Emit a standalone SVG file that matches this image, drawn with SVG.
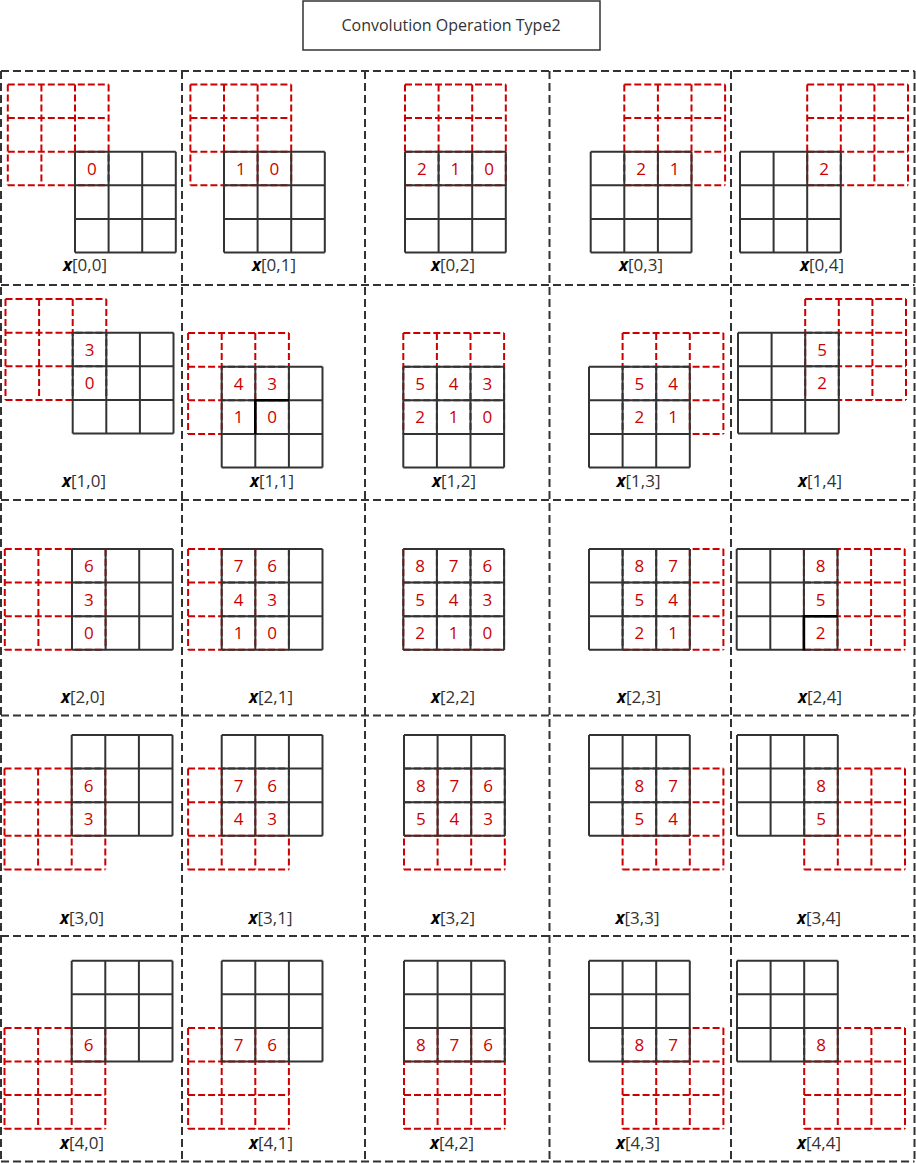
<svg xmlns="http://www.w3.org/2000/svg" xmlns:xlink="http://www.w3.org/1999/xlink" width="916" height="1163" viewBox="0 0 916 1163">
<style>
.frame{fill:none;stroke:#333;stroke-width:2;stroke-dasharray:8 4}
.k{fill:none;stroke:#CC0000;stroke-width:2;stroke-dasharray:7 3}
.g{fill:none;stroke:#333;stroke-width:2}
.thick{fill:none;stroke:#000;stroke-width:2.6}
.n{font-family:"Open Sans","Noto Sans",sans-serif;font-size:17px;fill:#CC0000;text-anchor:middle}
.lbl{font-family:"Open Sans","Noto Sans",sans-serif;font-size:17px;fill:#333;text-anchor:middle}
.lbl .v{font-weight:bold;font-style:italic;fill:#000}
.title{font-family:"Open Sans","Noto Sans",sans-serif;font-size:16px;fill:#333;text-anchor:middle}
</style>
<defs>
<path id="kern" class="k" d="M0,0H100.8M0,33.6H100.8M0,67.2H100.8M0,100.8H100.8M0,0V100.8M33.6,0V100.8M67.2,0V100.8M100.8,0V100.8"/>
<path id="inp" class="g" d="M0,0H100.8M0,33.6H100.8M0,67.2H100.8M0,100.8H100.8M0,0V100.8M33.6,0V100.8M67.2,0V100.8M100.8,0V100.8"/>
</defs>
<g id="title">
<rect x="303" y="1" width="297" height="49" fill="#fff" stroke="#333" stroke-width="1.5"/>
<text class="title" x="451" y="31">Convolution Operation Type2</text>
</g>
<g id="frames">
<path class="frame" d="M1,71V1161.5M182,71V1161.5M365,71V1161.5M549.5,71V1161.5M731,71V1161.5M914.5,71V1161.5M1,71H914.5M1,285H914.5M1,500H914.5M1,715.5H914.5M1,936H914.5M1,1161.5H914.5"/>
</g>
<g id="p00"><use href="#kern" x="7.8" y="84.5"/><use href="#inp" x="75" y="151.7"/><text class="n" x="91.8" y="174.8">0</text><text class="lbl" x="85" y="271"><tspan class="v">x</tspan>[0,0]</text></g>
<g id="p01"><use href="#kern" x="190.4" y="84.5"/><use href="#inp" x="224" y="151.7"/><text class="n" x="240.8" y="174.8">1</text><text class="n" x="274.4" y="174.8">0</text><text class="lbl" x="274" y="271"><tspan class="v">x</tspan>[0,1]</text></g>
<g id="p02"><use href="#kern" x="405" y="84.5"/><use href="#inp" x="405" y="151.7"/><text class="n" x="421.8" y="174.8">2</text><text class="n" x="455.4" y="174.8">1</text><text class="n" x="489" y="174.8">0</text><text class="lbl" x="453" y="271"><tspan class="v">x</tspan>[0,2]</text></g>
<g id="p03"><use href="#kern" x="624.3" y="84.5"/><use href="#inp" x="590.7" y="151.7"/><text class="n" x="641.1" y="174.8">2</text><text class="n" x="674.7" y="174.8">1</text><text class="lbl" x="641" y="271"><tspan class="v">x</tspan>[0,3]</text></g>
<g id="p04"><use href="#kern" x="807.2" y="84.5"/><use href="#inp" x="740" y="151.7"/><text class="n" x="824" y="174.8">2</text><text class="lbl" x="822" y="271"><tspan class="v">x</tspan>[0,4]</text></g>
<g id="p10"><use href="#kern" x="5.5" y="299.1"/><use href="#inp" x="72.7" y="332.7"/><text class="n" x="89.5" y="355.8">3</text><text class="n" x="89.5" y="389.4">0</text><text class="lbl" x="84" y="487"><tspan class="v">x</tspan>[1,0]</text></g>
<g id="p11"><use href="#kern" x="188.1" y="333.1"/><use href="#inp" x="221.7" y="366.7"/><path class="thick" d="M255.3,434.3V400.3H288.9"/><text class="n" x="238.5" y="389.8">4</text><text class="n" x="272.1" y="389.8">3</text><text class="n" x="238.5" y="423.4">1</text><text class="n" x="272.1" y="423.4">0</text><text class="lbl" x="272" y="487"><tspan class="v">x</tspan>[1,1]</text></g>
<g id="p12"><use href="#kern" x="403.3" y="333.1"/><use href="#inp" x="403.3" y="366.7"/><text class="n" x="420.1" y="389.8">5</text><text class="n" x="453.7" y="389.8">4</text><text class="n" x="487.3" y="389.8">3</text><text class="n" x="420.1" y="423.4">2</text><text class="n" x="453.7" y="423.4">1</text><text class="n" x="487.3" y="423.4">0</text><text class="lbl" x="454" y="487"><tspan class="v">x</tspan>[1,2]</text></g>
<g id="p13"><use href="#kern" x="622.6" y="333.1"/><use href="#inp" x="589" y="366.7"/><text class="n" x="639.4" y="389.8">5</text><text class="n" x="673" y="389.8">4</text><text class="n" x="639.4" y="423.4">2</text><text class="n" x="673" y="423.4">1</text><text class="lbl" x="638.5" y="487"><tspan class="v">x</tspan>[1,3]</text></g>
<g id="p14"><use href="#kern" x="805.2" y="299.1"/><use href="#inp" x="738" y="332.7"/><text class="n" x="822" y="355.8">5</text><text class="n" x="822" y="389.4">2</text><text class="lbl" x="820" y="487"><tspan class="v">x</tspan>[1,4]</text></g>
<g id="p20"><use href="#kern" x="4.8" y="549"/><use href="#inp" x="72" y="549"/><text class="n" x="88.8" y="572.1">6</text><text class="n" x="88.8" y="605.7">3</text><text class="n" x="88.8" y="639.3">0</text><text class="lbl" x="83" y="703"><tspan class="v">x</tspan>[2,0]</text></g>
<g id="p21"><use href="#kern" x="188.1" y="549"/><use href="#inp" x="221.7" y="549"/><text class="n" x="238.5" y="572.1">7</text><text class="n" x="272.1" y="572.1">6</text><text class="n" x="238.5" y="605.7">4</text><text class="n" x="272.1" y="605.7">3</text><text class="n" x="238.5" y="639.3">1</text><text class="n" x="272.1" y="639.3">0</text><text class="lbl" x="271" y="703"><tspan class="v">x</tspan>[2,1]</text></g>
<g id="p22"><use href="#kern" x="403.3" y="549"/><use href="#inp" x="403.3" y="549"/><text class="n" x="420.1" y="572.1">8</text><text class="n" x="453.7" y="572.1">7</text><text class="n" x="487.3" y="572.1">6</text><text class="n" x="420.1" y="605.7">5</text><text class="n" x="453.7" y="605.7">4</text><text class="n" x="487.3" y="605.7">3</text><text class="n" x="420.1" y="639.3">2</text><text class="n" x="453.7" y="639.3">1</text><text class="n" x="487.3" y="639.3">0</text><text class="lbl" x="453" y="703"><tspan class="v">x</tspan>[2,2]</text></g>
<g id="p23"><use href="#kern" x="622.6" y="549"/><use href="#inp" x="589" y="549"/><text class="n" x="639.4" y="572.1">8</text><text class="n" x="673" y="572.1">7</text><text class="n" x="639.4" y="605.7">5</text><text class="n" x="673" y="605.7">4</text><text class="n" x="639.4" y="639.3">2</text><text class="n" x="673" y="639.3">1</text><text class="lbl" x="639" y="703"><tspan class="v">x</tspan>[2,3]</text></g>
<g id="p24"><use href="#kern" x="803.9" y="549"/><use href="#inp" x="736.7" y="549"/><path class="thick" d="M803.9,650.4V616.2H837.5"/><text class="n" x="820.7" y="572.1">8</text><text class="n" x="820.7" y="605.7">5</text><text class="n" x="820.7" y="639.3">2</text><text class="lbl" x="820" y="703"><tspan class="v">x</tspan>[2,4]</text></g>
<g id="p30"><use href="#kern" x="4.5" y="768.6"/><use href="#inp" x="71.7" y="735"/><text class="n" x="88.5" y="791.7">6</text><text class="n" x="88.5" y="825.3">3</text><text class="lbl" x="82" y="923.5"><tspan class="v">x</tspan>[3,0]</text></g>
<g id="p31"><use href="#kern" x="188.1" y="768.6"/><use href="#inp" x="221.7" y="735"/><text class="n" x="238.5" y="791.7">7</text><text class="n" x="272.1" y="791.7">6</text><text class="n" x="238.5" y="825.3">4</text><text class="n" x="272.1" y="825.3">3</text><text class="lbl" x="270.5" y="923.5"><tspan class="v">x</tspan>[3,1]</text></g>
<g id="p32"><use href="#kern" x="404" y="768.6"/><use href="#inp" x="404" y="735"/><text class="n" x="420.8" y="791.7">8</text><text class="n" x="454.4" y="791.7">7</text><text class="n" x="488" y="791.7">6</text><text class="n" x="420.8" y="825.3">5</text><text class="n" x="454.4" y="825.3">4</text><text class="n" x="488" y="825.3">3</text><text class="lbl" x="453" y="923.5"><tspan class="v">x</tspan>[3,2]</text></g>
<g id="p33"><use href="#kern" x="622.6" y="768.6"/><use href="#inp" x="589" y="735"/><text class="n" x="639.4" y="791.7">8</text><text class="n" x="673" y="791.7">7</text><text class="n" x="639.4" y="825.3">5</text><text class="n" x="673" y="825.3">4</text><text class="lbl" x="637.5" y="923.5"><tspan class="v">x</tspan>[3,3]</text></g>
<g id="p34"><use href="#kern" x="804.2" y="768.6"/><use href="#inp" x="737" y="735"/><text class="n" x="821" y="791.7">8</text><text class="n" x="821" y="825.3">5</text><text class="lbl" x="819" y="923.5"><tspan class="v">x</tspan>[3,4]</text></g>
<g id="p40"><use href="#kern" x="4.5" y="1027.9"/><use href="#inp" x="71.7" y="960.7"/><text class="n" x="88.5" y="1051">6</text><text class="lbl" x="82" y="1148.5"><tspan class="v">x</tspan>[4,0]</text></g>
<g id="p41"><use href="#kern" x="188.1" y="1027.9"/><use href="#inp" x="221.7" y="960.7"/><text class="n" x="238.5" y="1051">7</text><text class="n" x="272.1" y="1051">6</text><text class="lbl" x="271" y="1148.5"><tspan class="v">x</tspan>[4,1]</text></g>
<g id="p42"><use href="#kern" x="404" y="1027.9"/><use href="#inp" x="404" y="960.7"/><text class="n" x="420.8" y="1051">8</text><text class="n" x="454.4" y="1051">7</text><text class="n" x="488" y="1051">6</text><text class="lbl" x="452" y="1148.5"><tspan class="v">x</tspan>[4,2]</text></g>
<g id="p43"><use href="#kern" x="622.6" y="1027.9"/><use href="#inp" x="589" y="960.7"/><text class="n" x="639.4" y="1051">8</text><text class="n" x="673" y="1051">7</text><text class="lbl" x="638" y="1148.5"><tspan class="v">x</tspan>[4,3]</text></g>
<g id="p44"><use href="#kern" x="804.2" y="1027.9"/><use href="#inp" x="737" y="960.7"/><text class="n" x="821" y="1051">8</text><text class="lbl" x="819" y="1148.5"><tspan class="v">x</tspan>[4,4]</text></g>
</svg>
